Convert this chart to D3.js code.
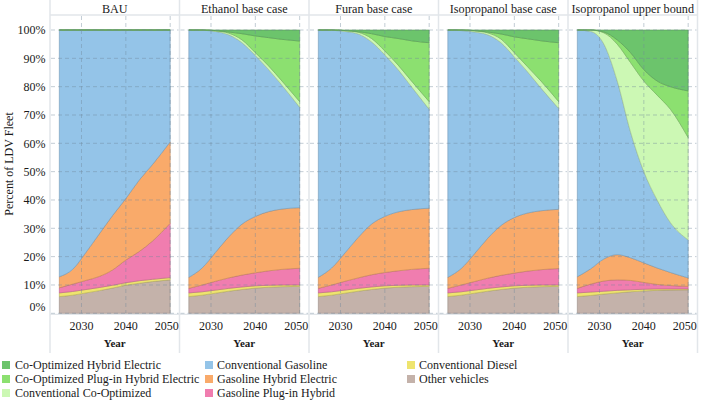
<!DOCTYPE html>
<html><head><meta charset="utf-8">
<script src="https://cdn.jsdelivr.net/npm/d3@7"></script>
<style>
body{margin:0;background:#fff}
svg{display:block}
text{font-family:"Liberation Serif","Times New Roman",serif;fill:#1a1a1a}
</style>
</head><body><svg id="c" width="702" height="402"></svg>
<script>
const YEARS = [2025, 2028, 2031, 2034, 2037, 2040, 2043, 2046, 2050];
const SERIES = ["Other vehicles","Conventional Diesel","Gasoline Plug-in Hybrid","Gasoline Hybrid Electric","Conventional Gasoline","Conventional Co-Optimized","Co-Optimized Plug-in Hybrid Electric","Co-Optimized Hybrid Electric"];
const SCENARIOS = ["BAU","Ethanol base case","Furan base case","Isopropanol base case","Isopropanol upper bound"];
const COLORS = ["#c4b2aa","#eee46e","#f07daf","#f9aa6a","#94c4e8","#ccf8b4","#8ce070","#6cc46c"];
const Y_TICKS = [0,10,20,30,40,50,60,70,80,90,100];
const X_TICKS = [2030, 2040, 2050];

// shares (%) per series, in SERIES order (bottom to top)
const BAU = [
  [5.9,6.4,7.2,8.0,8.9,9.9,10.6,11.2,11.8],
  [1.3,1.3,1.2,1.1,1.0,0.9,0.9,0.8,0.8],
  [1.8,2.6,3.2,3.9,5.4,8.0,10.3,13.5,19.2],
  [3.9,5.2,9.9,15.0,19.2,21.7,25.2,27.0,28.7],
  [87.1,84.5,78.5,72.0,65.5,59.5,53.0,47.5,39.5],
  [0,0,0,0,0,0,0,0,0],
  [0,0,0,0,0,0,0,0,0],
  [0,0,0,0,0,0,0,0,0]
];
const ETHANOL = [
  [5.9,6.4,7.1,7.8,8.4,8.9,9.2,9.4,9.5],
  [1.3,1.2,1.1,1.0,0.9,0.8,0.7,0.6,0.5],
  [1.6,2.4,3.1,3.7,4.2,4.6,5.1,5.5,5.9],
  [3.9,6.0,10.2,14.5,18.0,19.9,20.9,21.3,21.4],
  [87.3,83.9,78.0,71.3,64.0,56.8,50.1,43.7,35.4],
  [0,0.1,0.2,0.6,1.0,1.0,1.3,1.5,2.0],
  [0,0,0.1,0.4,2.2,5.9,10.0,14.7,21.4],
  [0,0,0.2,0.7,1.3,2.1,2.7,3.3,3.9]
];
const FURAN = [
  [5.9,6.4,7.1,7.8,8.4,8.9,9.2,9.4,9.5],
  [1.3,1.2,1.1,1.0,0.9,0.8,0.7,0.6,0.5],
  [1.6,2.4,3.1,3.7,4.3,4.7,5.1,5.5,5.9],
  [3.9,6.0,10.0,14.3,17.9,19.8,20.8,21.1,21.2],
  [87.3,83.9,78.2,71.8,64.3,57.0,50.2,43.4,34.9],
  [0,0.1,0.3,0.6,1.2,1.4,1.6,2.0,2.7],
  [0,0,0,0.2,1.7,5.1,9.4,14.2,20.8],
  [0,0,0.2,0.6,1.3,2.3,3.0,3.8,4.5]
];
const ISO_BASE = [
  [5.9,6.4,7.1,7.8,8.4,8.9,9.2,9.4,9.5],
  [1.3,1.2,1.1,1.0,0.9,0.8,0.7,0.6,0.5],
  [1.6,2.4,3.0,3.6,4.1,4.5,5.0,5.4,5.8],
  [3.9,5.8,9.8,14.1,17.6,19.6,20.5,20.8,20.9],
  [87.3,84.0,78.3,71.8,64.5,56.7,49.8,43.3,35.6],
  [0,0.2,0.4,0.7,1.3,1.5,1.8,2.5,2.4],
  [0,0,0.1,0.3,1.8,5.6,9.9,14.2,20.8],
  [0,0,0.2,0.7,1.4,2.4,3.1,3.8,4.5]
];
const ISO_UPPER = [
  [5.9,6.3,6.8,7.2,7.6,7.9,8.1,8.2,8.3],
  [1.3,1.2,1.0,0.9,0.7,0.6,0.5,0.4,0.3],
  [1.6,2.8,3.6,3.7,3.3,2.4,1.6,1.2,0.9],
  [4.1,5.4,7.8,8.9,8.0,6.9,5.8,4.6,3.0],
  [87.1,83.8,75.8,61.3,44.4,32.2,24.0,17.6,13.4],
  [0,0.5,4.0,13.0,24.5,32.0,37.0,40.0,36.1],
  [0,0,0.3,1.5,3.5,4.0,5.0,8.0,16.5],
  [0,0,0.7,3.5,8.0,14.0,18.0,20.0,21.5]
];
const PANEL_DATA = [BAU, ETHANOL, FURAN, ISO_BASE, ISO_UPPER];
const LEGEND_ORDER = [7,6,5,4,3,2,1,0];

const svg = d3.select("#c");
const left0 = 50, panelW = 129.5, topLine = 15, sepBottom = 353;
const y = d3.scaleLinear().domain([0,100]).range([313.3,30]);
const gridCol = "#6f879c";

// panel separators
const sepG = svg.append("g");
for (let k=0;k<=SCENARIOS.length;k++){
  const xx = left0 + k*panelW;
  sepG.append("line").attr("x1",xx).attr("x2",xx).attr("y1",0).attr("y2",sepBottom)
    .attr("stroke","#e2e6ea").attr("stroke-width",1.5);
}
sepG.append("line").attr("x1",left0).attr("x2",left0+SCENARIOS.length*panelW)
  .attr("y1",topLine).attr("y2",topLine).attr("stroke","#e2e6ea").attr("stroke-width",1.5);
sepG.append("line").attr("x1",left0).attr("x2",left0+SCENARIOS.length*panelW)
  .attr("y1",y(0)+1).attr("y2",y(0)+1).attr("stroke","#e2e6ea").attr("stroke-width",1.2);

SCENARIOS.forEach((name, p) => {
  const pl = left0 + p*panelW, pr = pl + panelW;
  const x = d3.scaleLinear().domain([2022.9, 2052.1]).range([pl, pr]);
  const vals = PANEL_DATA[p];
  const rows = YEARS.map((yr,i) => {
    const r = {year: yr};
    SERIES.forEach((s,j) => r[s] = vals[j][i]);
    return r;
  });
  const stacked = d3.stack().keys(SERIES)(rows);
  const area = d3.area().x(d => x(d.data.year)).y0(d => y(d[0])).y1(d => y(d[1])).curve(d3.curveMonotoneX);
  const g = svg.append("g");
  g.selectAll("path").data(stacked).join("path")
    .attr("d", area)
    .attr("fill", (d,i) => COLORS[i])
    .attr("stroke", (d,i) => d3.color(COLORS[i]).darker(0.7))
    .attr("stroke-width", 0.6);

  // grid
  const gg = svg.append("g").attr("stroke", gridCol).attr("stroke-opacity",0.42).attr("stroke-dasharray","4,3");
  Y_TICKS.forEach(t => {
    gg.append("line").attr("x1",pl+1).attr("x2",pr-1).attr("y1",y(t)).attr("y2",y(t));
  });
  X_TICKS.forEach(t => {
    gg.append("line").attr("x1",x(t)).attr("x2",x(t)).attr("y1",topLine+1).attr("y2",y(0));
  });

  // title
  svg.append("text").attr("x",(pl+pr)/2).attr("y",12.5).attr("text-anchor","middle")
    .style("font-size","12.2px").text(name);
  // x tick labels
  X_TICKS.forEach((t,i) => {
    const off = i === X_TICKS.length-1 ? -3.5 : 0;
    svg.append("text").attr("x",x(t)+off).attr("y",329.5).attr("text-anchor","middle")
      .style("font-size","12px").text(t);
  });
  svg.append("text").attr("x",(pl+pr)/2).attr("y",347).attr("text-anchor","middle")
    .style("font-size","11px").style("font-weight","bold").text("Year");
});

// y axis labels
Y_TICKS.forEach(t => {
  svg.append("text").attr("x",45.5).attr("y",y(t) + (t===0 ? -6.6 : 0)).attr("dy","0.35em")
    .attr("text-anchor","end").style("font-size","12px").text(t + "%");
});
svg.append("text").attr("transform","translate(12.5,164) rotate(-90)").attr("text-anchor","middle")
  .style("font-size","12px").text("Percent of LDV Fleet");

// legend
const colX = [[2,15],[205,217],[407,419]];
LEGEND_ORDER.forEach((si, k) => {
  const c = Math.floor(k/3), r = k%3;
  const [sx, tx] = colX[c];
  const cy = 365 + r*14;
  svg.append("rect").attr("x",sx).attr("y",cy-4).attr("width",8).attr("height",8).attr("fill",COLORS[si]);
  svg.append("text").attr("x",tx).attr("y",cy).attr("dy","0.35em").style("font-size","12px").text(SERIES[si]);
});
</script></body></html>
